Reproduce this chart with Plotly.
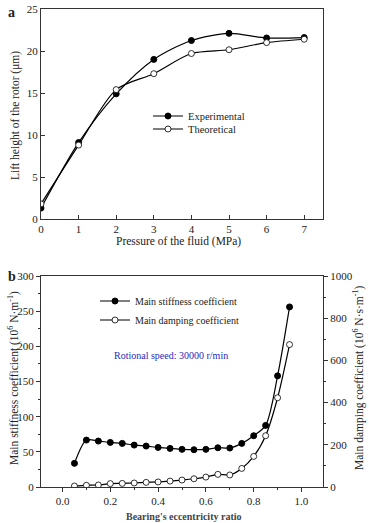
import plotly.graph_objects as go

# ---- data: panel a ----
pressure = [0, 1, 2, 3, 4, 5, 6, 7]
lift_exp = [1.3, 9.1, 14.9, 19.0, 21.25, 22.1, 21.55, 21.6]
lift_theo = [1.8, 8.8, 15.4, 17.3, 19.7, 20.15, 21.0, 21.4]

# ---- data: panel b ----
ecc = [0.05, 0.10, 0.15, 0.20, 0.25, 0.30, 0.35, 0.40, 0.45, 0.50,
       0.55, 0.60, 0.65, 0.70, 0.75, 0.80, 0.85, 0.90, 0.95]
stiffness = [33.6, 66.7, 65.3, 63.4, 62.0, 59.6, 58.2, 56.3, 54.9, 53.5,
             53.0, 53.5, 55.8, 55.4, 62.0, 72.9, 87.6, 158.0, 256.0]
damping = [4.7, 8, 9.5, 16, 17, 19, 22, 24, 28, 33,
           39, 47, 60, 57, 88, 145, 243, 423, 675]

W, H = 369, 523
FONT = "Liberation Serif"


def px(x):
    return x / W


def py(y):
    return 1 - y / H


fig = go.Figure()

line = dict(color="black", width=1.2, shape="spline", smoothing=0.8)
filled = dict(symbol="circle", size=6, color="black",
              line=dict(color="black", width=1))
hollow = dict(symbol="circle", size=6, color="white",
              line=dict(color="black", width=0.8))

fig.add_trace(go.Scatter(x=pressure, y=lift_exp, name="Experimental",
                         mode="lines+markers", line=line, marker=filled,
                         xaxis="x", yaxis="y", legend="legend"))
fig.add_trace(go.Scatter(x=pressure, y=lift_theo, name="Theoretical",
                         mode="lines+markers", line=line, marker=hollow,
                         xaxis="x", yaxis="y", legend="legend2"))

fig.add_trace(go.Scatter(x=ecc, y=stiffness, name="Main stiffness coefficient",
                         mode="lines+markers", line=line, marker=filled,
                         xaxis="x2", yaxis="y2", legend="legend3"))
fig.add_trace(go.Scatter(x=ecc, y=damping, name="Main damping coefficient",
                         mode="lines+markers", line=line, marker=hollow,
                         xaxis="x2", yaxis="y3", legend="legend4"))

xdom = [px(41), px(323)]
tickf = dict(family=FONT, size=11, color="#222")
axcommon = dict(showgrid=False, zeroline=False, showline=True,
                linecolor="#333", linewidth=1, tickcolor="#333",
                tickfont=tickf, automargin=False)


def leg(x, y, size):
    return dict(x=px(x), y=py(y), xanchor="left", yanchor="middle",
                bgcolor="rgba(0,0,0,0)", font=dict(family=FONT, size=size,
                                                   color="#222"),
                itemwidth=30)


fig.update_layout(
    width=W, height=H,
    margin=dict(l=0, r=0, t=0, b=0, autoexpand=False),
    paper_bgcolor="white", plot_bgcolor="white",
    font=dict(family=FONT, color="#222"),
    xaxis=dict(domain=xdom, anchor="y", range=[0, 7.5],
               tickvals=pressure, ticks="inside", ticklen=4, mirror=True,
               **axcommon),
    yaxis=dict(domain=[py(219), py(9)], anchor="x", range=[0, 25],
               tickvals=[0, 5, 10, 15, 20, 25], ticks="inside", ticklen=4,
               mirror=True, **axcommon),
    xaxis2=dict(domain=xdom, anchor="y2", range=[-0.09, 1.09],
                tickvals=[0.0, 0.2, 0.4, 0.6, 0.8, 1.0],
                ticktext=["0.0", "0.2", "0.4", "0.6", "0.8", "1.0"],
                ticks="outside", ticklen=4, mirror=True,
                minor=dict(tickvals=[-0.1 + 0.2 * i for i in range(7)],
                           ticks="outside", ticklen=2, tickcolor="#333"),
                **axcommon),
    xaxis3=dict(domain=xdom, anchor="y2", overlaying="x2", side="top",
                range=[-0.09, 1.09], tickvals=[0.0, 0.2, 0.4, 0.6, 0.8, 1.0],
                ticks="inside", ticklen=4, showticklabels=False,
                showgrid=False, zeroline=False, showline=False,
                tickcolor="#333", automargin=False),
    yaxis2=dict(domain=[py(487), py(276)], anchor="x2", range=[0, 300],
                tickvals=[0, 50, 100, 150, 200, 250, 300], ticks="outside",
                ticklen=4,
                minor=dict(tickvals=[25, 75, 125, 175, 225, 275],
                           ticks="outside", ticklen=2, tickcolor="#333"),
                **axcommon),
    yaxis3=dict(anchor="x2", overlaying="y2", side="right", range=[0, 1000],
                tickvals=[0, 200, 400, 600, 800, 1000], ticks="outside",
                ticklen=4,
                minor=dict(tickvals=[100, 300, 500, 700, 900],
                           ticks="outside", ticklen=2, tickcolor="#333"),
                **axcommon),
    legend=leg(148, 116, 10.5),
    legend2=leg(148, 129, 10.5),
    legend3=leg(95, 301, 10),
    legend4=leg(95, 320, 10),
    showlegend=True,
)

ann = [
    dict(text="<b>a</b>", x=px(11), y=py(12), font=dict(size=14)),
    dict(text="<b>b</b>", x=px(12), y=py(276), font=dict(size=14)),
    dict(text="Pressure of the fluid (MPa)", x=px(178), y=py(241),
         font=dict(size=11.5)),
    dict(text="Lift height of the rotor (μm)", x=px(15), y=py(116),
         textangle=-90, font=dict(size=11.5)),
    dict(text="Main stiffness coefficient (10<sup>6</sup> N·m<sup>-1</sup>)",
         x=px(13), y=py(378), textangle=-90, font=dict(size=11.5)),
    dict(text="Main damping coefficient (10<sup>6</sup> N·s·m<sup>-1</sup>)",
         x=px(358), y=py(378), textangle=-90, font=dict(size=11.5)),
    dict(text="<b>Bearing's eccentricity ratio</b>", x=px(184), y=py(516),
         font=dict(size=10, color="#444")),
    dict(text="Rotional speed: 30000 r/min", x=px(171), y=py(355),
         font=dict(size=10, color="#2a2ab8")),
]
for a in ann:
    fig.add_annotation(xref="paper", yref="paper", showarrow=False,
                       xanchor="center", yanchor="middle", **a)

fig.write_html("out.html",
               config={"displayModeBar": False},
               post_script="document.body.style.margin='0';"
                           "document.body.style.overflow='hidden';")
